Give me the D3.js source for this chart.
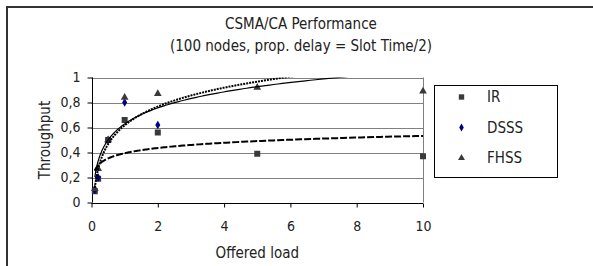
<!DOCTYPE html>
<html>
<head>
<meta charset="utf-8">
<script src="https://cdn.jsdelivr.net/npm/d3@7"></script>
<style>
  html, body { margin: 0; padding: 0; background: #fff; }
  svg { display: block; }
  text { font-family: "Liberation Sans Narrow", "Arial Narrow", "DejaVu Sans Condensed", sans-serif; fill: #222; }
</style>
</head>
<body>
<svg id="chart" width="593" height="266"></svg>
<script>
'use strict';

// chart data
const loads = [0.1, 0.2, 0.5, 1, 2, 5, 10];
const irThroughput = [0.09, 0.19, 0.50, 0.66, 0.56, 0.39, 0.37];
const dsssThroughput = [0.10, 0.20, 0.50, 0.80, 0.62, 1.05, 1.05]; // last two sit above the axis max
const fhssThroughput = [0.11, 0.27, 0.50, 0.84, 0.87, 0.92, 0.89];
const seriesNames = ['IR', 'DSSS', 'FHSS'];
const xTicks = [0, 2, 4, 6, 8, 10];
const yTicks = [0, 0.2, 0.4, 0.6, 0.8, 1];
const titleLines = ['CSMA/CA Performance', '(100 nodes, prop. delay = Slot Time/2)'];

const svg = d3.select('#chart');

const x = d3.scaleLinear().domain([0, 10]).range([91.5, 423]);
const y = d3.scaleLinear().domain([0, 1]).range([202.5, 77.5]);

// outer frame (only top and left edges are inside the window)
svg.append('path')
  .attr('d', 'M7,266 V7 H593')
  .attr('fill', 'none')
  .attr('stroke', '#333')
  .attr('stroke-width', 2);

// title
svg.selectAll('.title')
  .data(titleLines)
  .join('text')
  .attr('class', 'title')
  .attr('x', 301)
  .attr('y', (d, i) => 29 + i * 22)
  .attr('text-anchor', 'middle')
  .attr('font-size', 15)
  .text(d => d);

// grid
svg.append('g')
  .selectAll('line')
  .data(yTicks.filter(d => d > 0))
  .join('line')
  .attr('x1', x(0))
  .attr('x2', x(10))
  .attr('y1', d => Math.round(y(d)) + 0.5)
  .attr('y2', d => Math.round(y(d)) + 0.5)
  .attr('stroke', '#808080');

svg.append('line')
  .attr('x1', Math.round(x(10)) + 0.5)
  .attr('x2', Math.round(x(10)) + 0.5)
  .attr('y1', y(1))
  .attr('y2', y(0))
  .attr('stroke', '#808080');

// axes
const fmt = d => (d === 0 || d === 1 ? String(d) : d3.format('.1f')(d).replace('.', ','));

const yAxis = svg.append('g')
  .attr('transform', `translate(${Math.round(x(0)) + 0.5},0)`)
  .call(d3.axisLeft(y).tickValues(yTicks).tickFormat(fmt).tickSize(5).tickPadding(7));

const xAxis = svg.append('g')
  .attr('transform', `translate(0,${Math.round(y(0)) + 0.5})`)
  .call(d3.axisBottom(x).tickValues(xTicks).tickSize(4).tickPadding(14));

[yAxis, xAxis].forEach(axis => {
  axis.select('.domain').remove();
  axis.selectAll('text').attr('font-size', 14).style('font-family', null);
  axis.attr('font-family', null);
});
yAxis.append('line').attr('y1', y(1)).attr('y2', y(0)).attr('stroke', '#000');
xAxis.append('line').attr('x1', x(0)).attr('x2', x(10)).attr('stroke', '#000');

// axis titles
svg.append('text')
  .attr('transform', `translate(50,${(y(0) + y(1)) / 2}) rotate(-90)`)
  .attr('text-anchor', 'middle')
  .attr('font-size', 15)
  .text('Throughput');

svg.append('text')
  .attr('x', (x(0) + x(10)) / 2)
  .attr('y', 258)
  .attr('text-anchor', 'middle')
  .attr('font-size', 15)
  .text('Offered load');

// series
const series = [
  { name: seriesNames[0], values: irThroughput, shape: d3.symbolSquare, size: 36, color: '#3a3a3a', dash: '7,2', width: 2 },
  { name: seriesNames[1], values: dsssThroughput, shape: d3.symbolDiamond, size: 22, color: '#000080', dash: '2,1', width: 2 },
  { name: seriesNames[2], values: fhssThroughput, shape: d3.symbolTriangle, size: 26, color: '#3a3a3a', dash: null, width: 1.2 }
];

// logarithmic trend line, as a spreadsheet would fit it
const logFit = values => {
  const lx = loads.map(Math.log);
  const mx = d3.mean(lx);
  const my = d3.mean(values);
  const b = d3.sum(lx, (v, i) => (v - mx) * (values[i] - my)) / d3.sum(lx, v => (v - mx) * (v - mx));
  const a = my - b * mx;
  return t => a + b * Math.log(t);
};

svg.append('clipPath')
  .attr('id', 'plot-clip')
  .append('rect')
  .attr('x', x(0))
  .attr('y', y(1))
  .attr('width', x(10) - x(0))
  .attr('height', y(0) - y(1));

const markers = svg.append('g');
series.forEach(s => {
  markers.selectAll(null)
    .data(loads.map((l, i) => [l, s.values[i]]).filter(d => d[1] <= 1))
    .join('path')
    .attr('d', d3.symbol().type(s.shape).size(s.size))
    .attr('transform', d => `translate(${x(d[0])},${y(d[1])})`)
    .attr('fill', s.color);
});

const trends = svg.append('g').attr('clip-path', 'url(#plot-clip)');
const steps = d3.range(0, 201).map(i => 0.1 * Math.pow(100, i / 200));
series.forEach(s => {
  const f = logFit(s.values);
  trends.append('path')
    .datum(steps)
    .attr('d', d3.line().x(d => x(d)).y(d => y(f(d))))
    .attr('fill', 'none')
    .attr('stroke', '#000')
    .attr('stroke-width', s.width)
    .attr('stroke-dasharray', s.dash);
});

// legend
const legend = svg.append('g');
legend.append('rect')
  .attr('x', 434.5)
  .attr('y', 85.5)
  .attr('width', 123)
  .attr('height', 92)
  .attr('fill', '#fff')
  .attr('stroke', '#000');

const items = legend.selectAll('g')
  .data(series)
  .join('g')
  .attr('transform', (d, i) => `translate(0,${97 + i * 30.5})`);

items.append('path')
  .attr('d', d => d3.symbol().type(d.shape).size(d.size * 0.8)())
  .attr('transform', 'translate(461.5,0)')
  .attr('fill', d => d.color);

items.append('text')
  .attr('x', 487)
  .attr('dy', '0.35em')
  .attr('font-size', 15)
  .text(d => d.name);
</script>
</body>
</html>
